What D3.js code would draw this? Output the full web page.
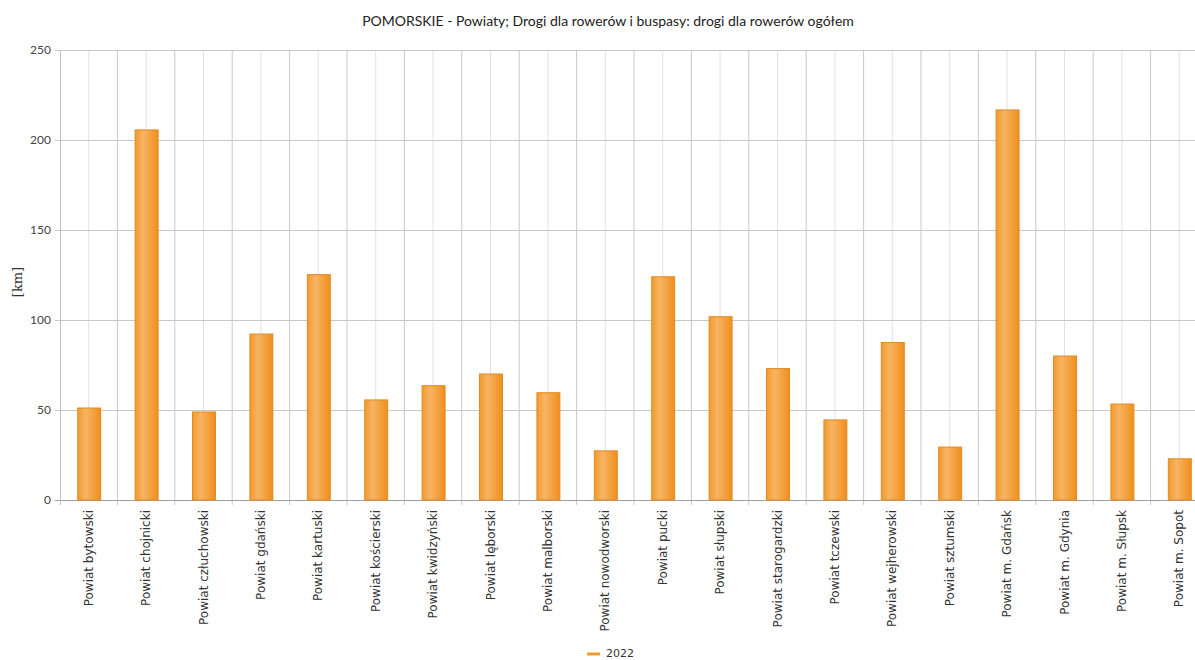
<!DOCTYPE html>
<html>
<head>
<meta charset="utf-8">
<script src="https://cdn.jsdelivr.net/npm/d3@7"></script>
<style>
  html, body { margin: 0; padding: 0; background: #fff; overflow: hidden; }
  svg { display: block; }
</style>
</head>
<body>
<script>
const titleText = "POMORSKIE - Powiaty; Drogi dla rowerów i buspasy: drogi dla rowerów ogółem";
const yAxisLabel = "[km]";
const seriesName = "2022";
const categories = [
  "Powiat bytowski", "Powiat chojnicki", "Powiat człuchowski", "Powiat gdański",
  "Powiat kartuski", "Powiat kościerski", "Powiat kwidzyński", "Powiat lęborski",
  "Powiat malborski", "Powiat nowodworski", "Powiat pucki", "Powiat słupski",
  "Powiat starogardzki", "Powiat tczewski", "Powiat wejherowski", "Powiat sztumski",
  "Powiat m. Gdańsk", "Powiat m. Gdynia", "Powiat m. Słupsk", "Powiat m. Sopot"
];
const values2022 = [51.1, 205.6, 48.9, 92.2, 125.2, 55.6, 63.5, 70.0, 59.6, 27.3,
                    124.0, 101.8, 73.0, 44.5, 87.5, 29.4, 216.7, 80.0, 53.3, 22.9];
const yTicks = [0, 50, 100, 150, 200, 250];

const W = 1195, H = 660;
const margin = { left: 60, top: 50 };
const step = 57.4;
const plotW = step * categories.length;
const plotH = 450;

const svg = d3.select("body").append("svg").attr("width", W).attr("height", H);

const defs = svg.append("defs");
const grad = defs.append("linearGradient").attr("id", "barGrad").attr("x1", "0%").attr("x2", "100%");
grad.append("stop").attr("offset", "0%").attr("stop-color", "#f39a2c");
grad.append("stop").attr("offset", "35%").attr("stop-color", "#f7b464");
grad.append("stop").attr("offset", "100%").attr("stop-color", "#f08f1c");

const x = d3.scaleBand().domain(categories).range([margin.left, margin.left + plotW]).paddingInner(0.6).paddingOuter(0.3);
const xOuter = d3.scaleBand().domain(categories).range([margin.left, margin.left + plotW]);
const y = d3.scaleLinear().domain([0, 250]).range([margin.top + plotH, margin.top]);

// Title
svg.append("text").attr("x", 608).attr("y", 26).attr("text-anchor", "middle")
  .style("font-family", "Lato, sans-serif").style("font-size", "14px").style("fill", "#222")
  .text(titleText);

const g = svg.append("g");

// vertical center gridlines (lighter)
g.selectAll("line.vc").data(categories).join("line")
  .attr("x1", d => xOuter(d) + xOuter.bandwidth() / 2).attr("x2", d => xOuter(d) + xOuter.bandwidth() / 2)
  .attr("y1", margin.top).attr("y2", margin.top + plotH)
  .attr("stroke", "#e2e2e2").attr("stroke-width", 1);

// vertical boundary gridlines
g.selectAll("line.vb").data(categories.slice(1)).join("line")
  .attr("x1", d => xOuter(d)).attr("x2", d => xOuter(d))
  .attr("y1", margin.top).attr("y2", margin.top + plotH + 5)
  .attr("stroke", "#c8c8c8").attr("stroke-width", 1);

// horizontal gridlines
g.selectAll("line.h").data(yTicks).join("line")
  .attr("x1", margin.left - 5).attr("x2", margin.left + plotW)
  .attr("y1", d => Math.round(y(d)) + 0.5).attr("y2", d => Math.round(y(d)) + 0.5)
  .attr("stroke", d => d === 0 ? "#a0a0a0" : "#c8c8c8").attr("stroke-width", 1);

// left axis line
g.append("line").attr("x1", margin.left + 0.5).attr("x2", margin.left + 0.5)
  .attr("y1", margin.top).attr("y2", margin.top + plotH + 5).attr("stroke", "#c0c0c0");

// y tick labels
g.selectAll("text.yt").data(yTicks).join("text")
  .attr("x", margin.left - 9).attr("y", d => y(d) + 4).attr("text-anchor", "end")
  .style("font-family", "Lato, sans-serif").style("font-size", "12px").style("fill", "#444")
  .text(d => d);

// y axis label
svg.append("text").attr("transform", `translate(22, ${margin.top + plotH / 2 + 7}) rotate(-90)`)
  .attr("text-anchor", "middle")
  .style("font-family", "'DejaVu Serif', serif").style("font-size", "13px").style("fill", "#333")
  .text(yAxisLabel);

// bars
g.selectAll("rect.bar").data(categories).join("rect")
  .attr("x", (d) => x(d) + 0.5)
  .attr("y", (d, i) => y(values2022[i]))
  .attr("width", x.bandwidth())
  .attr("height", (d, i) => y(0) - y(values2022[i]))
  .attr("fill", "url(#barGrad)")
  .attr("stroke", "#e08a22").attr("stroke-width", 1);

// x labels
g.selectAll("text.xl").data(categories).join("text")
  .attr("transform", d => `translate(${xOuter(d) + xOuter.bandwidth() / 2 + 4}, ${margin.top + plotH + 10}) rotate(-90)`)
  .attr("text-anchor", "end")
  .style("font-family", "'DejaVu Sans', sans-serif").style("font-size", "12px").style("fill", "#333")
  .text(d => d);

// legend
const leg = svg.append("g");
leg.append("line").attr("x1", 587).attr("x2", 600).attr("y1", 654).attr("y2", 654)
  .attr("stroke", "#f39a2c").attr("stroke-width", 3);
leg.append("text").attr("x", 606).attr("y", 654).attr("dominant-baseline", "middle")
  .style("font-family", "'DejaVu Sans', sans-serif").style("font-size", "11px").style("fill", "#333")
  .text(seriesName);
</script>
</body>
</html>
